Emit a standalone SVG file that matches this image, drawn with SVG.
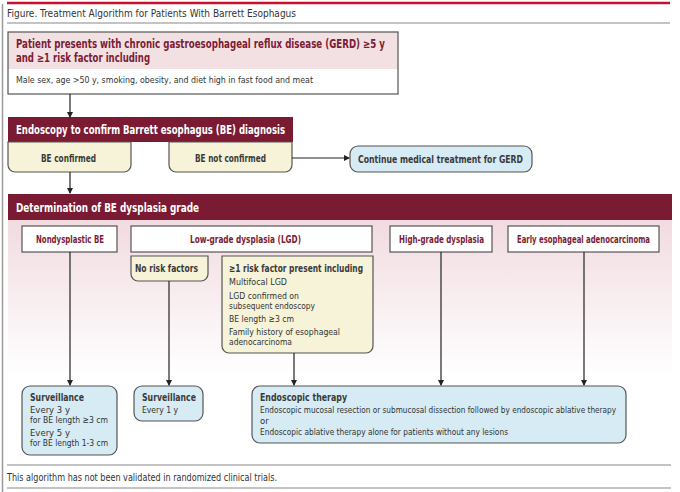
<svg xmlns="http://www.w3.org/2000/svg" width="680" height="492" viewBox="0 0 680 492">
<defs>
<style>
text{font-family:"Liberation Sans Narrow","DejaVu Sans Condensed","Liberation Sans",sans-serif;}
.hd{font-size:11.5px;font-weight:bold;fill:#7a1c35;}
.wh{font-size:11.5px;font-weight:bold;fill:#ffffff;}
.bd{font-size:9.5px;fill:#333333;}
.sb{font-size:10.5px;font-weight:bold;fill:#3a3a3a;}
.mh{font-size:10.5px;font-weight:bold;fill:#7a1c35;}
.bx{stroke:#555555;stroke-width:1.2;}
.yl{fill:#f6f3d8;}
.bl{fill:#d6ebf3;}
.wt{fill:#ffffff;}
.ban{fill:#7b1a33;}
.ln{stroke:#222222;stroke-width:1.2;fill:none;}
.rule{stroke:#888888;stroke-width:1.2;}
</style>
<marker id="ah" markerWidth="6" markerHeight="6" refX="5" refY="3" orient="auto" markerUnits="userSpaceOnUse">
<path d="M0,0 L6,3 L0,6 Z" fill="#222222"/>
</marker>
<linearGradient id="pg" x1="0" y1="0" x2="0" y2="1">
<stop offset="0" stop-color="#f1dbe0"/>
<stop offset="1" stop-color="#ffffff"/>
</linearGradient>
</defs>
<rect x="0" y="0" width="680" height="492" fill="#ffffff"/>
<line x1="2.5" y1="4" x2="2.5" y2="492" stroke="#9a9a9a" stroke-width="1.5"/>
<g id="header">
<line x1="7" y1="3" x2="670" y2="3" stroke="#c8102e" stroke-width="2.5"/>
<text x="7" y="17" font-size="11" fill="#333333" textLength="289" lengthAdjust="spacingAndGlyphs">Figure. Treatment Algorithm for Patients With Barrett Esophagus</text>
<line x1="7" y1="23" x2="670" y2="23" class="rule"/>
</g>
<rect x="8" y="220" width="664" height="155" fill="url(#pg)"/>
<g id="n_gerd">
<rect x="8" y="32" width="390" height="62" class="wt"/>
<rect x="8" y="32" width="390" height="37" fill="#f3e0e3"/>
<rect x="8" y="32" width="390" height="62" fill="none" class="bx"/>
<text x="16" y="48" class="hd" textLength="369" lengthAdjust="spacingAndGlyphs">Patient presents with chronic gastroesophageal reflux disease (GERD) ≥5 y</text>
<text x="16" y="62" class="hd" textLength="134" lengthAdjust="spacingAndGlyphs">and ≥1 risk factor including</text>
<text x="16" y="83" class="bd" textLength="297" lengthAdjust="spacingAndGlyphs">Male sex, age &gt;50 y, smoking, obesity, and diet high in fast food and meat</text>
</g>
<g id="n_endoscopy">
<rect x="8" y="117" width="285" height="25" class="ban"/>
<text x="16" y="134" class="wh" textLength="269" lengthAdjust="spacingAndGlyphs">Endoscopy to confirm Barrett esophagus (BE) diagnosis</text>
</g>
<g id="n_confirmed">
<path d="M8,142 H131 V165 A7,7 0 0 1 124,172 H15 A7,7 0 0 1 8,165 Z" class="yl bx"/>
<text x="41" y="162" class="sb" textLength="55" lengthAdjust="spacingAndGlyphs">BE confirmed</text>
</g>
<g id="n_notconfirmed">
<path d="M169,142 H292 V165 A7,7 0 0 1 285,172 H176 A7,7 0 0 1 169,165 Z" class="yl bx"/>
<text x="195" y="162" class="sb" textLength="71" lengthAdjust="spacingAndGlyphs">BE not confirmed</text>
</g>
<g id="n_continue">
<rect x="350" y="146" width="182" height="26" rx="8" class="bl bx"/>
<text x="358" y="163" class="sb" textLength="165" lengthAdjust="spacingAndGlyphs">Continue medical treatment for GERD</text>
</g>
<g id="n_determination">
<rect x="8" y="194" width="664" height="26" class="ban"/>
<text x="16" y="212" class="wh" textLength="183" lengthAdjust="spacingAndGlyphs">Determination of BE dysplasia grade</text>
</g>
<g id="n_nondys">
<rect x="22" y="226" width="95" height="26" class="wt bx"/>
<text x="36" y="243" class="mh" textLength="68" lengthAdjust="spacingAndGlyphs">Nondysplastic BE</text>
</g>
<g id="n_lgd">
<rect x="131" y="226" width="241" height="26" class="wt bx"/>
<text x="190" y="243" class="mh" textLength="111" lengthAdjust="spacingAndGlyphs">Low-grade dysplasia (LGD)</text>
</g>
<g id="n_hgd">
<rect x="390" y="226" width="102" height="26" class="wt bx"/>
<text x="399" y="243" class="mh" textLength="85" lengthAdjust="spacingAndGlyphs">High-grade dysplasia</text>
</g>
<g id="n_early">
<rect x="508" y="226" width="151" height="26" class="wt bx"/>
<text x="517" y="243" class="mh" font-size="10" textLength="133" lengthAdjust="spacingAndGlyphs">Early esophageal adenocarcinoma</text>
</g>
<g id="n_norisk">
<path d="M131,256 H208 V274 A7,7 0 0 1 201,281 H138 A7,7 0 0 1 131,274 Z" class="yl bx"/>
<text x="135" y="272" class="sb" textLength="63" lengthAdjust="spacingAndGlyphs">No risk factors</text>
</g>
<g id="n_risk">
<path d="M222,256 H373 V346 A7,7 0 0 1 366,353 H229 A7,7 0 0 1 222,346 Z" class="yl bx"/>
<text x="229" y="272" class="sb" textLength="134" lengthAdjust="spacingAndGlyphs">≥1 risk factor present including</text>
<text x="229" y="285" class="bd" textLength="58" lengthAdjust="spacingAndGlyphs">Multifocal LGD</text>
<text x="229" y="299" class="bd" textLength="70" lengthAdjust="spacingAndGlyphs">LGD confirmed on</text>
<text x="229" y="309" class="bd" textLength="86" lengthAdjust="spacingAndGlyphs">subsequent endoscopy</text>
<text x="229" y="322" class="bd" textLength="65" lengthAdjust="spacingAndGlyphs">BE length ≥3 cm</text>
<text x="229" y="335" class="bd" textLength="111" lengthAdjust="spacingAndGlyphs">Family history of esophageal</text>
<text x="229" y="345" class="bd" textLength="63" lengthAdjust="spacingAndGlyphs">adenocarcinoma</text>
</g>
<g id="n_surv1">
<rect x="22" y="386" width="95" height="69" rx="8" class="bl bx"/>
<text x="30" y="401" class="sb" textLength="54" lengthAdjust="spacingAndGlyphs">Surveillance</text>
<text x="30" y="413" class="bd" textLength="40" lengthAdjust="spacingAndGlyphs">Every 3 y</text>
<text x="30" y="423" class="bd" textLength="78" lengthAdjust="spacingAndGlyphs">for BE length ≥3 cm</text>
<text x="30" y="436" class="bd" textLength="40" lengthAdjust="spacingAndGlyphs">Every 5 y</text>
<text x="30" y="446" class="bd" textLength="78" lengthAdjust="spacingAndGlyphs">for BE length 1-3 cm</text>
</g>
<g id="n_surv2">
<rect x="134" y="386" width="69" height="35" rx="8" class="bl bx"/>
<text x="142" y="401" class="sb" textLength="54" lengthAdjust="spacingAndGlyphs">Surveillance</text>
<text x="142" y="413" class="bd" textLength="36" lengthAdjust="spacingAndGlyphs">Every 1 y</text>
</g>
<g id="n_therapy">
<rect x="252" y="386" width="374" height="57" rx="8" class="bl bx"/>
<text x="260" y="401" class="sb" textLength="87" lengthAdjust="spacingAndGlyphs">Endoscopic therapy</text>
<text x="260" y="413" class="bd" textLength="356" lengthAdjust="spacingAndGlyphs">Endoscopic mucosal resection or submucosal dissection followed by endoscopic ablative therapy</text>
<text x="260" y="424" class="bd">or</text>
<text x="260" y="435" class="bd" textLength="248" lengthAdjust="spacingAndGlyphs">Endoscopic ablative therapy alone for patients without any lesions</text>
</g>
<g id="connectors">
<line x1="70" y1="94" x2="70" y2="117" class="ln" marker-end="url(#ah)"/>
<line x1="292" y1="158" x2="349" y2="158" class="ln" marker-end="url(#ah)"/>
<line x1="70" y1="172" x2="70" y2="193" class="ln" marker-end="url(#ah)"/>
<line x1="70" y1="252" x2="70" y2="385" class="ln" marker-end="url(#ah)"/>
<line x1="169" y1="281" x2="169" y2="385" class="ln" marker-end="url(#ah)"/>
<line x1="294" y1="353" x2="294" y2="385" class="ln" marker-end="url(#ah)"/>
<line x1="441" y1="252" x2="441" y2="385" class="ln" marker-end="url(#ah)"/>
<line x1="584" y1="252" x2="584" y2="385" class="ln" marker-end="url(#ah)"/>
</g>
<g id="footer">
<line x1="7" y1="465" x2="671" y2="465" class="rule"/>
<text x="7" y="481" font-size="10" fill="#333333" textLength="270" lengthAdjust="spacingAndGlyphs">This algorithm has not been validated in randomized clinical trials.</text>
<line x1="7" y1="488" x2="671" y2="488" class="rule"/>
</g>
</svg>
